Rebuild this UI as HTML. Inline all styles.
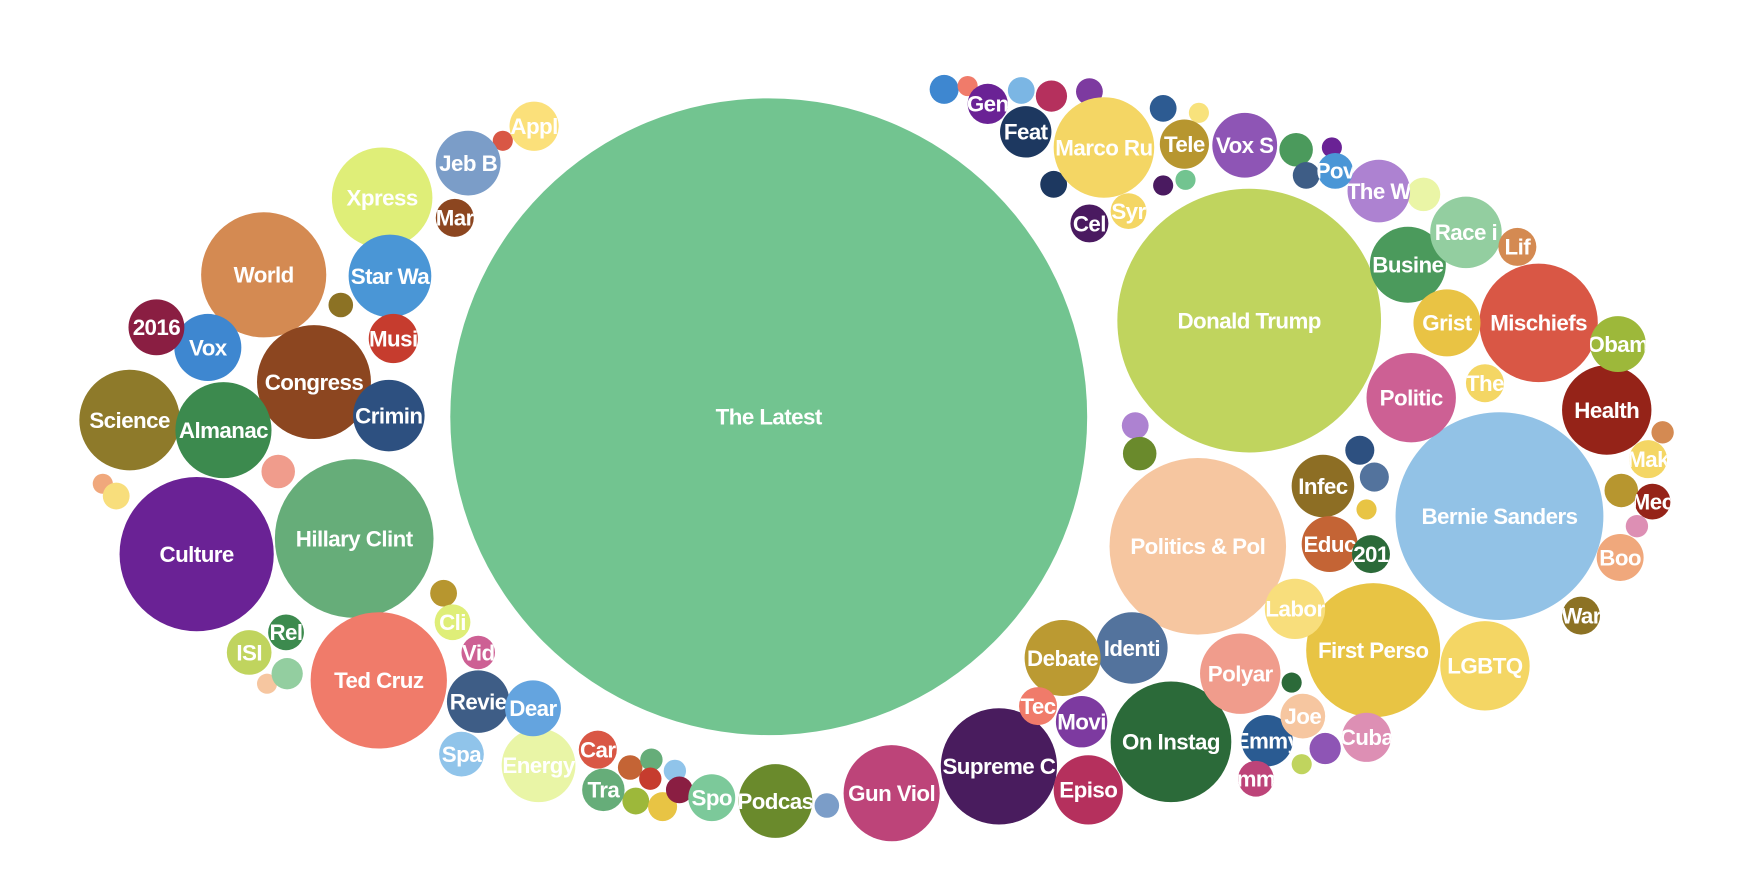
<!DOCTYPE html>
<html><head><meta charset="utf-8"><style>
html,body{margin:0;padding:0;background:#fff;}
svg{display:block;}
text{font-family:"Liberation Sans",sans-serif;font-weight:bold;fill:#fff;font-size:20px;letter-spacing:-0.5px;}
</style></head><body>
<svg id="chart" width="1752" height="896" viewBox="0 0 1568 802" preserveAspectRatio="none"></svg>
<script>
const labels=["The Latest","Donald Trump","Bernie Sanders","Politics & Pol","Hillary Clint","Culture","First Perso","Ted Cruz","World","Gun Viol","Supreme C","On Instag","Congress","Marco Ru","Xpress","Science","Almanac","Mischiefs","Health","LGBTQ","Politic","Star Wa","Crimin","Polyar","Identi","Debate","Podcas","Busine","Race i","Infec","Vox S","Grist","Vox","Energy","Revie","Episo","Jeb B","Educ","Labor","2016","Dear","Emmy","Cuba","Movi","Feat","Tele","The W","ISI","Spa","Spo","Tra","Car","Tec","Joe","Obam","Musi","Mar","Appl","Cel","Syr","Gen","Pov","The","201","Rel","Cli","Vid","Lif","Mak","Mec","Boo","War","mm"];
const radii=[285,118,93,79,71,69,60,61,56,43,52,54,51,45,45,45,43,53,40,40,40,37,32,36,32,34,33,34,32,28,29,30,30,33,28,31,29,25,27,25,25,23,22,23,23,22,28,20,20,21,19,17,17,20,25,22,17,22,17,16,18,16,17,17,16,16,15,17,17,16,21,17,16];
const cxs=[688,1118,1342,1072,317,176,1229,339,236,798,894,1048,281,988,342,116,200,1377,1438,1329,1263,349,348,1110,1013,951,694,1260,1312,1184,1114,1295,186,482,428,974,419,1190,1159,140,477,1134,1223,968,918,1060,1234,223,413,637,540,535,929,1166,1448,352,407,478,975,1010,884,1195,1329,1227,256,405,428,1358,1475,1479,1450,1415,1124];
const cys=[373,287,462,489,482,496,582,609,246,710,686,664,342,132,177,376,385,289,367,596,356,247,372,603,580,589,717,237,208,435,130,289,311,685,628,707,146,487,545,293,634,663,660,646,118,129,171,584,675,714,707,671,632,641,308,303,195,113,200,189,93,153,343,496,566,557,584,221,411,449,499,551,697];
const colors=["#72c490","#c0d45e","#92c2e6","#f6c6a0","#66ad79","#6a2295","#e8c444","#f07b6a","#d48a52","#bd4479","#491c5e","#2b6a39","#8c4620","#f4d664","#dfee78","#8e7a2a","#3c8a4e","#d95745","#952318","#f4d664","#cd6094","#4a96d6","#2d5080","#f09c8c","#53739d","#bb9a32","#6a8a2c","#4b9a5c","#93cea0","#8d6e24","#8e55b5","#e9c344","#3e87d0","#e9f5a6","#3e5d86","#b5305d","#7b9dc8","#c46435","#f8de7c","#8a1e42","#64a4df","#2a5b92","#dd8fb4","#7d3aa0","#1d3860","#b7962f","#ad82d1","#c0d45e","#90c4ea","#7cc99a","#66ad79","#d95745","#f07b6a","#f6c6a0","#9db83a","#c63c2e","#8c4620","#fbe07a","#4a1a60","#f4d664","#6a2295","#4a96d6","#f4d664","#2b6a39","#3c8a4e","#dfee78","#cd6094","#d48a52","#f4d664","#952318","#f0a87c","#8c7224","#bd4479"];
const smallR=[13,9,12,14,12,12,9,15,9,12,12,9,9,15,12,15,13,13,9,10,15,10,9,14,9,11,9,15,9,12,12,9,14,11,10,10,10,12,13,12,11];
const smallX=[845,866,914,941,975,1041,1073,1160,1192,1169,943,1041,1061,1274,1016,1020,1217,1230,1223,1488,1451,1465,1156,1186,1165,305,450,249,92,104,397,239,257,564,583,582,604,569,593,608,740];
const smallY=[80,77,81,86,82,97,101,134,132,157,165,166,161,174,381,406,403,427,456,387,439,471,611,670,684,273,126,422,433,444,531,612,603,687,680,697,690,717,722,707,721];
const smallC=["#3e87d0","#f07b6a","#7bb6e4","#b5305d","#7d3aa0","#2d5b92","#f8e27c","#4b9a5c","#6a2295","#3e5d86","#1d3860","#4a1a60","#72c490","#eaf5a6","#ad82d1","#6a8a2c","#2d5080","#53739d","#e8c444","#d48a52","#b7962f","#dd8fb4","#2b6a39","#8e55b5","#c0d45e","#8c7224","#d95745","#f09c8c","#f0a87c","#f8de7c","#b7962f","#f6c6a0","#93cea0","#c46435","#66ad79","#c63c2e","#90c4ea","#9db83a","#e8c444","#8a1e42","#7b9dc8"];
const NS="http://www.w3.org/2000/svg";
const svg=document.getElementById('chart');
const defs=document.createElementNS(NS,'defs');svg.appendChild(defs);
for(let i=0;i<smallR.length;i++){
  const c=document.createElementNS(NS,'circle');
  c.setAttribute('cx',smallX[i]);c.setAttribute('cy',smallY[i]);c.setAttribute('r',smallR[i]);c.setAttribute('fill',smallC[i]);
  
  
  svg.appendChild(c);
}
for(let i=0;i<labels.length;i++){
  const g=document.createElementNS(NS,'g');
  
  
  const cp=document.createElementNS(NS,'clipPath');cp.setAttribute('id','cp'+i);
  const cc=document.createElementNS(NS,'circle');cc.setAttribute('cx',cxs[i]);cc.setAttribute('cy',cys[i]);cc.setAttribute('r',radii[i]);
  cp.appendChild(cc);defs.appendChild(cp);
  const c=document.createElementNS(NS,'circle');
  c.setAttribute('cx',cxs[i]);c.setAttribute('cy',cys[i]);c.setAttribute('r',radii[i]);c.setAttribute('fill',colors[i]);
  
  
  g.appendChild(c);
  const t=document.createElementNS(NS,'text');
  t.setAttribute('x',cxs[i]);t.setAttribute('y',cys[i]+7);t.setAttribute('text-anchor','middle');
  t.setAttribute('clip-path','url(#cp'+i+')');
  
  
  t.textContent=labels[i];
  g.appendChild(t);
  svg.appendChild(g);
}
</script>
</body></html>
